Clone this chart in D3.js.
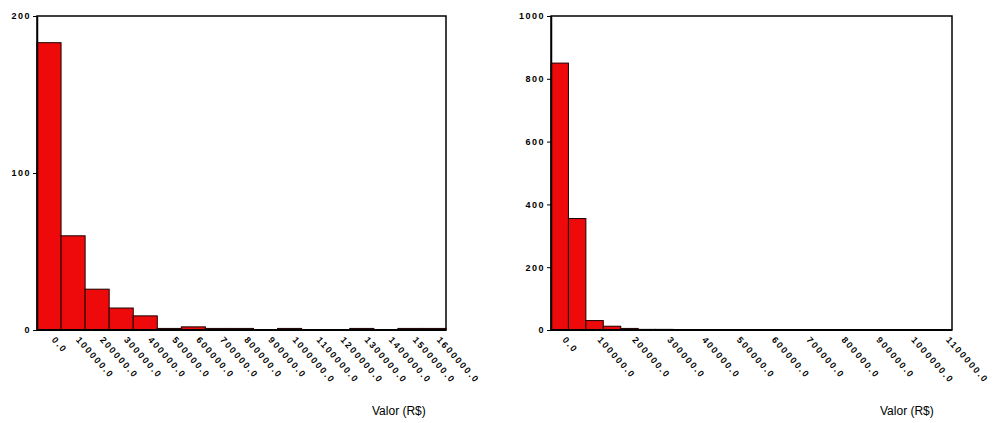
<!DOCTYPE html>
<html>
<head>
<meta charset="utf-8">
<script src="https://cdn.jsdelivr.net/npm/d3@7"></script>
<style>
  html, body { margin: 0; padding: 0; background: #fff; }
  svg { display: block; }
</style>
</head>
<body>
<svg id="chart" width="993" height="423"></svg>
<script>
// Histogram A: bins of 100000, centred on 0, 100000, ... 1600000
const binCentersA = [0, 100000, 200000, 300000, 400000, 500000, 600000, 700000, 800000,
                     900000, 1000000, 1100000, 1200000, 1300000, 1400000, 1500000, 1600000];
const countsA = [183, 60, 26, 14, 9, 1, 2, 1, 1, 0, 1, 0, 0, 1, 0, 1, 1];
const tickLabelsA = ["0.0", "100000.0", "200000.0", "300000.0", "400000.0", "500000.0",
                     "600000.0", "700000.0", "800000.0", "900000.0", "1000000.0", "1100000.0",
                     "1200000.0", "1300000.0", "1400000.0", "1500000.0", "1600000.0"];
const yTicksA = [0, 100, 200];

// Histogram B: bins of 50000, centred on 0, 50000, ... 1100000
const binCentersB = [0, 50000, 100000, 150000, 200000, 250000, 300000, 350000, 400000,
                     450000, 500000, 550000, 600000, 650000, 700000, 750000, 800000,
                     850000, 900000, 950000, 1000000, 1050000, 1100000];
const countsB = [850, 355, 30, 12, 5, 2, 2, 1, 0, 0, 0, 0, 0, 0, 0, 0, 0, 0, 0, 0, 0, 0, 0];
const tickLabelsB = ["0.0", "100000.0", "200000.0", "300000.0", "400000.0", "500000.0",
                     "600000.0", "700000.0", "800000.0", "900000.0", "1000000.0", "1100000.0"];
const yTicksB = [0, 200, 400, 600, 800, 1000];

const axisTitle = "Valor (R$)";

const svg = d3.select("#chart");

function histogram(cfg) {
  const x = d3.scaleLinear().domain(cfg.xDomain).range([cfg.left, cfg.right]);
  const y = d3.scaleLinear().domain(cfg.yDomain).range([cfg.bottom, cfg.top]);
  const g = svg.append("g");

  // plot frame
  g.append("rect")
    .attr("x", cfg.left).attr("y", cfg.top)
    .attr("width", cfg.right - cfg.left).attr("height", cfg.bottom - cfg.top)
    .attr("fill", "#fff").attr("stroke", "#000").attr("stroke-width", 1.5);

  // bars (empty bins are not drawn)
  const bars = cfg.centers.map((c, i) => ({ c, n: cfg.counts[i] })).filter(d => d.n > 0);
  g.selectAll("rect.bar").data(bars).enter().append("rect")
    .attr("class", "bar")
    .attr("x", d => x(d.c - cfg.binWidth / 2))
    .attr("width", d => x(d.c + cfg.binWidth / 2) - x(d.c - cfg.binWidth / 2))
    .attr("y", d => y(d.n))
    .attr("height", d => y(0) - y(d.n))
    .attr("fill", "#ee0a0a")
    .attr("stroke", "#1a0000")
    .attr("stroke-width", 1);

  // bottom axis line
  g.append("line")
    .attr("x1", cfg.left).attr("x2", cfg.right)
    .attr("y1", cfg.bottom).attr("y2", cfg.bottom)
    .attr("stroke", "#000").attr("stroke-width", 2);

  // y axis
  const yAxis = d3.axisLeft(y).tickValues(cfg.yTicks).tickSize(4).tickSizeOuter(0)
    .tickFormat(d3.format("d"));
  const ya = g.append("g").attr("transform", `translate(${cfg.left},0)`).call(yAxis);
  ya.select(".domain").attr("stroke", "#000").attr("stroke-width", 1.5);
  ya.selectAll(".tick line").attr("stroke", "#000");
  ya.selectAll(".tick text")
    .attr("font-family", "'Liberation Sans', Arial, sans-serif")
    .attr("font-size", 9).attr("font-weight", "bold")
    .attr("letter-spacing", 1.5)
    .attr("fill", "#000").attr("x", -6);

  // x tick labels, rotated, at the bin midpoints
  g.selectAll("text.xl").data(cfg.labels).enter().append("text")
    .attr("class", "xl")
    .attr("transform", (d, i) => `translate(${x(i * cfg.labelStep) + 7},${cfg.bottom + 6}) rotate(48)`)
    .attr("font-family", "'Liberation Sans', Arial, sans-serif")
    .attr("font-size", 9).attr("font-weight", "bold")
    .attr("letter-spacing", 1.8)
    .attr("dy", "0.7em")
    .attr("fill", "#000")
    .text(d => d);

  // axis title
  g.append("text")
    .attr("x", cfg.titleX).attr("y", 415)
    .attr("font-family", "'Liberation Sans', Arial, sans-serif")
    .attr("font-size", 12)
    .attr("fill", "#000")
    .text(axisTitle);
}

histogram({
  left: 37, right: 446, top: 16, bottom: 330,
  xDomain: [-50000, 1650000], yDomain: [0, 200],
  binWidth: 100000, centers: binCentersA, counts: countsA,
  labels: tickLabelsA, labelStep: 100000, yTicks: yTicksA, titleX: 372
});

histogram({
  left: 551, right: 952, top: 16, bottom: 330,
  xDomain: [-25000, 1125000], yDomain: [0, 1000],
  binWidth: 50000, centers: binCentersB, counts: countsB,
  labels: tickLabelsB, labelStep: 100000, yTicks: yTicksB, titleX: 880
});
</script>
</body>
</html>
